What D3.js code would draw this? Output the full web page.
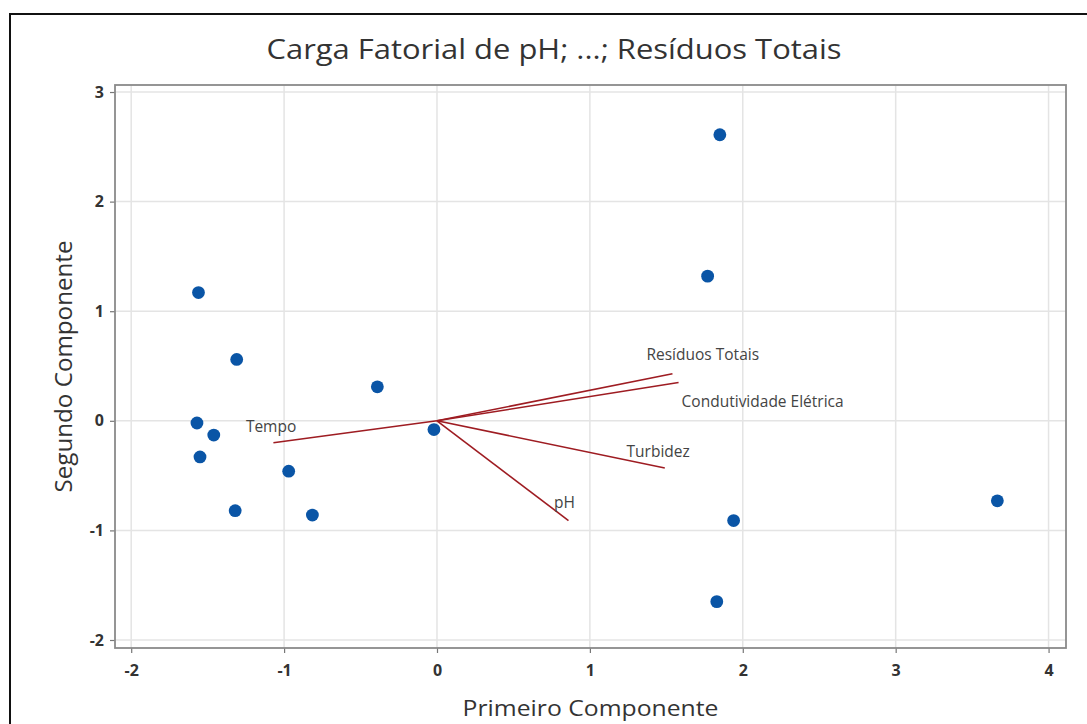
<!DOCTYPE html>
<html>
<head>
<meta charset="utf-8">
<script src="https://cdn.jsdelivr.net/npm/d3@7"></script>
<style>
  body { margin: 0; background: #fff; }
  text { font-family: "Open Sans", "Noto Sans", sans-serif; }
</style>
</head>
<body>
<div id="chart"></div>
<script>
// scores (Primeiro / Segundo Componente)
const pc1 = [-1.56, -1.31, -0.39, -1.57, -1.46, -1.55, -0.97, -1.32, -0.815, -0.02, 1.85, 1.77, 1.94, 1.83, 3.665];
const pc2 = [1.17, 0.56, 0.31, -0.02, -0.13, -0.33, -0.46, -0.82, -0.86, -0.08, 2.61, 1.32, -0.91, -1.65, -0.73];

// cargas fatoriais
const loadNames = ["Tempo", "Resíduos Totais", "Condutividade Elétrica", "Turbidez", "pH"];
const loadPC1 = [-1.07, 1.54, 1.58, 1.49, 0.86];
const loadPC2 = [-0.20, 0.43, 0.35, -0.43, -0.91];
// where Minitab put each label (data units, left edge / middle)
const labelPC1 = [-1.25, 1.37, 1.60, 1.24, 0.765];
const labelPC2 = [-0.05, 0.60, 0.175, -0.28, -0.75];

const xTicks = [-2, -1, 0, 1, 2, 3, 4];
const yTicks = [-2, -1, 0, 1, 2, 3];

const W = 1087, H = 724;
const plot = { left: 115, right: 1066, top: 85, bottom: 648 };

const svg = d3.select("#chart").append("svg")
    .attr("width", W)
    .attr("height", H);

// moldura preta da figura
svg.append("rect")
    .attr("x", 10).attr("y", 14)
    .attr("width", 1200).attr("height", 900)
    .attr("fill", "none")
    .attr("stroke", "#111")
    .attr("stroke-width", 2);

const x = d3.scaleLinear().domain([-2.106, 4.114]).range([plot.left, plot.right]);
const y = d3.scaleLinear().domain([-2.073, 3.064]).range([plot.bottom, plot.top]);

// grade
svg.append("g").selectAll("line")
    .data(xTicks).enter().append("line")
    .attr("x1", d => x(d)).attr("x2", d => x(d))
    .attr("y1", plot.top).attr("y2", plot.bottom)
    .attr("stroke", "#e4e4e4").attr("stroke-width", 1.5);

svg.append("g").selectAll("line")
    .data(yTicks).enter().append("line")
    .attr("x1", plot.left).attr("x2", plot.right)
    .attr("y1", d => y(d)).attr("y2", d => y(d))
    .attr("stroke", "#e4e4e4").attr("stroke-width", 1.5);

// eixos
const xAxis = svg.append("g")
    .attr("transform", `translate(0,${plot.bottom})`)
    .call(d3.axisBottom(x).tickValues(xTicks).tickSize(5).tickPadding(12).tickFormat(d => String(d)));

const yAxis = svg.append("g")
    .attr("transform", `translate(${plot.left},0)`)
    .call(d3.axisLeft(y).tickValues(yTicks).tickSize(5).tickPadding(6).tickFormat(d => String(d)));

[xAxis, yAxis].forEach(a => {
    a.select(".domain").remove();
    a.selectAll(".tick line").attr("stroke", "#777").attr("stroke-width", 1.2);
    a.selectAll(".tick text")
        .style("font-family", "'Open Sans', sans-serif")
        .style("font-size", "16px")
        .style("font-weight", "700")
        .attr("fill", "#333");
});

// borda da área do gráfico
svg.append("rect")
    .attr("x", plot.left).attr("y", plot.top)
    .attr("width", plot.right - plot.left)
    .attr("height", plot.bottom - plot.top)
    .attr("fill", "none")
    .attr("stroke", "#8a8a8a")
    .attr("stroke-width", 1.8);

// vetores de carga
const loadings = loadNames.map((n, i) => ({
    name: n, a: loadPC1[i], b: loadPC2[i], lx: labelPC1[i], ly: labelPC2[i]
}));

svg.append("g").selectAll("line")
    .data(loadings).enter().append("line")
    .attr("x1", x(0)).attr("y1", y(0))
    .attr("x2", d => x(d.a)).attr("y2", d => y(d.b))
    .attr("stroke", "#9e1c22")
    .attr("stroke-width", 1.6);

svg.append("g").selectAll("text")
    .data(loadings).enter().append("text")
    .attr("x", d => x(d.lx))
    .attr("y", d => y(d.ly))
    .attr("dy", "0.35em")
    .attr("fill", "#444")
    .style("font-size", "15.5px")
    .text(d => d.name);

// pontos
svg.append("g").selectAll("circle")
    .data(pc1.map((v, i) => ({ a: v, b: pc2[i] })))
    .enter().append("circle")
    .attr("cx", d => x(d.a))
    .attr("cy", d => y(d.b))
    .attr("r", 6.4)
    .attr("fill", "#0a55a6");

// títulos
svg.append("text")
    .attr("x", 554).attr("y", 59)
    .attr("text-anchor", "middle")
    .attr("fill", "#333")
    .attr("textLength", 575)
    .attr("lengthAdjust", "spacingAndGlyphs")
    .style("font-size", "27px")
    .text("Carga Fatorial de pH; ...; Resíduos Totais");

svg.append("text")
    .attr("x", (plot.left + plot.right) / 2).attr("y", 716)
    .attr("text-anchor", "middle")
    .attr("fill", "#333")
    .attr("textLength", 256)
    .attr("lengthAdjust", "spacingAndGlyphs")
    .style("font-size", "22px")
    .text("Primeiro Componente");

svg.append("text")
    .attr("transform", `translate(72,${(plot.top + plot.bottom) / 2}) rotate(-90)`)
    .attr("text-anchor", "middle")
    .attr("fill", "#333")
    .attr("textLength", 252)
    .attr("lengthAdjust", "spacingAndGlyphs")
    .style("font-size", "23px")
    .text("Segundo Componente");
</script>
</body>
</html>
